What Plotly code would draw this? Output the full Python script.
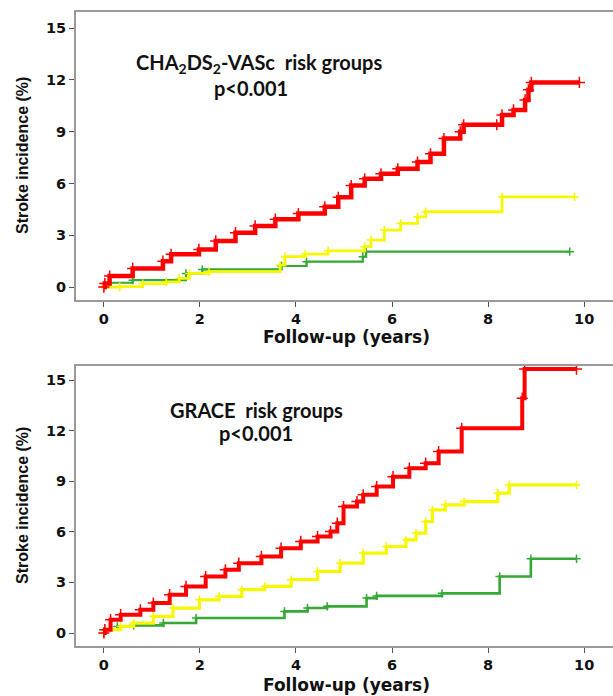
import plotly.graph_objects as go

# ---------------- data ----------------
# Top panel: CHA2DS2-VASc risk groups
cha_red_x = [0, 0.02, 0.12, 0.6, 1.23, 1.4, 1.98, 2.33, 2.74, 3.15, 3.57, 4.05, 4.6, 4.88, 5.15, 5.43,
             5.77, 6.12, 6.53, 6.8, 7.08, 7.42, 7.49, 8.18, 8.29, 8.53, 8.77, 8.84, 8.9, 9.9]
cha_red_y = [0, 0.2, 0.64, 1.08, 1.5, 1.9, 2.18, 2.67, 3.15, 3.54, 3.93, 4.26, 4.65, 5.2, 5.88, 6.27,
             6.56, 6.85, 7.24, 7.72, 8.6, 8.99, 9.4, 9.4, 9.97, 10.26, 10.84, 11.42, 11.85, 11.85]
cha_yel_x = [0, 0.33, 0.81, 1.3, 1.57, 1.78, 2.19, 3.67, 3.77, 4.19, 4.67, 5.43, 5.56, 5.84, 6.18,
             6.53, 6.7, 8.29, 9.8]
cha_yel_y = [0, 0.02, 0.2, 0.3, 0.5, 0.79, 0.89, 1.27, 1.76, 1.91, 2.1, 2.34, 2.72, 3.3, 3.69, 4.07,
             4.36, 5.22, 5.22]
cha_grn_x = [0, 0.12, 0.6, 1.71, 2.05, 3.7, 4.22, 5.39, 5.46, 9.7]
cha_grn_y = [0, 0.25, 0.4, 0.79, 1.02, 1.22, 1.47, 1.76, 2.05, 2.05]

# Bottom panel: GRACE risk groups
gr_red_x = [0, 0.02, 0.14, 0.35, 0.76, 1.03, 1.37, 1.71, 2.12, 2.53, 2.81, 3.28, 3.69, 4.1, 4.45, 4.72,
            4.86, 4.99, 5.27, 5.4, 5.68, 6.02, 6.36, 6.7, 6.97, 7.45, 8.71, 8.76, 9.84]
gr_red_y = [0, 0.2, 0.79, 1.09, 1.38, 1.78, 2.27, 2.76, 3.35, 3.75, 4.14, 4.54, 5.03, 5.43, 5.72, 6.02,
            6.51, 7.5, 7.79, 8.19, 8.68, 9.27, 9.77, 10.07, 10.76, 12.14, 13.92, 15.65, 15.65]
gr_yel_x = [0, 0.02, 0.35, 0.62, 1.03, 1.44, 1.99, 2.4, 2.87, 3.35, 3.9, 4.45, 4.92, 5.4, 5.88, 6.29,
            6.5, 6.7, 6.84, 7.11, 7.5, 8.2, 8.44, 9.84]
gr_yel_y = [0, 0.2, 0.39, 0.59, 0.99, 1.48, 1.97, 2.17, 2.57, 2.76, 3.16, 3.65, 4.14, 4.74, 5.13, 5.52,
            5.92, 6.61, 7.3, 7.6, 7.79, 8.29, 8.78, 8.78]
gr_grn_x = [0, 0.02, 0.28, 0.62, 1.24, 1.92, 3.76, 4.24, 4.65, 5.47, 5.68, 7.04, 8.24, 8.89, 9.84]
gr_grn_y = [0, 0.2, 0.39, 0.45, 0.59, 0.89, 1.28, 1.48, 1.58, 2.07, 2.2, 2.35, 3.35, 4.4, 4.4]

x_ticks = [0, 2, 4, 6, 8, 10]
y_ticks = [0, 3, 6, 9, 12, 15]
x_title = "Follow-up (years)"
y_title = "Stroke incidence (%)"
top_label = "CHA<sub>2</sub>DS<sub>2</sub>-VASc  risk groups"
bottom_label = "GRACE  risk groups"
p_label = "p<0.001"

RED = "#FF0000"
YEL = "#F7F700"
GRN = "#35A835"

fig = go.Figure()

def add_curve(x, y, color, width, xa, ya, msize):
    fig.add_trace(go.Scatter(
        x=x, y=y, mode="lines+markers", line=dict(color=color, width=width, shape="hv"),
        marker=dict(symbol="cross-thin", size=msize, line=dict(color=color, width=1.5)),
        xaxis=xa, yaxis=ya, showlegend=False, hoverinfo="skip"))

add_curve(cha_grn_x, cha_grn_y, GRN, 2.2, "x", "y", 6)
add_curve(cha_yel_x, cha_yel_y, YEL, 2.8, "x", "y", 6)
add_curve(cha_red_x, cha_red_y, RED, 4.5, "x", "y", 8)
add_curve(gr_grn_x, gr_grn_y, GRN, 2.6, "x2", "y2", 6)
add_curve(gr_yel_x, gr_yel_y, YEL, 3.2, "x2", "y2", 6)
add_curve(gr_red_x, gr_red_y, RED, 4.0, "x2", "y2", 8)

W, H = 613, 696
L = 76 / W
tick_font = dict(family="DejaVu Sans", size=14.5, color="#111111", weight="bold")
axis_common = dict(showline=True, linecolor="#9a9a9a", linewidth=2, mirror=True,
                   ticks="outside", ticklen=5, tickwidth=1.2, tickcolor="#555555",
                   showgrid=False, zeroline=False, tickfont=tick_font, automargin=False)

fig.update_layout(
    width=W, height=H, margin=dict(l=0, r=0, t=0, b=0),
    paper_bgcolor="white", plot_bgcolor="white",
    xaxis=dict(domain=[L, 1.0], range=[-0.58, 10.6], tickvals=x_ticks, anchor="y", **axis_common),
    yaxis=dict(domain=[1 - 300 / H, 1 - 12 / H], range=[-0.75, 15.93], tickvals=y_ticks,
               anchor="x", **axis_common),
    xaxis2=dict(domain=[L, 1.0], range=[-0.58, 10.6], tickvals=x_ticks, anchor="y2", **axis_common),
    yaxis2=dict(domain=[1 - 646 / H, 1 - 366 / H], range=[-0.77, 15.83], tickvals=y_ticks,
                anchor="x2", **axis_common),
)

ann_font = dict(family="Lato", size=20, color="#111111")
title_font = dict(family="DejaVu Sans", size=17, color="#111111")
ytitle_font = dict(family="Liberation Sans", size=16, color="#111111")

def ann(text, x, y, font, angle=0):
    fig.add_annotation(text=f"<b>{text}</b>", x=x / W, y=1 - y / H, xref="paper", yref="paper",
                       showarrow=False, font=font, textangle=angle, xanchor="center", yanchor="middle")

ann(top_label, 259, 63, ann_font)
ann(p_label, 251, 88, ann_font)
ann(bottom_label, 256, 410, ann_font)
ann(p_label, 256, 433, ann_font)
ann(x_title, 346, 337, title_font)
ann(x_title, 346, 685, title_font)
ann(y_title, 22, 156, ytitle_font, -90)
ann(y_title, 22, 506, ytitle_font, -90)

fig.write_html("out.html", config={"displayModeBar": False},
               post_script="document.body.style.margin='0';document.body.style.padding='0';")
